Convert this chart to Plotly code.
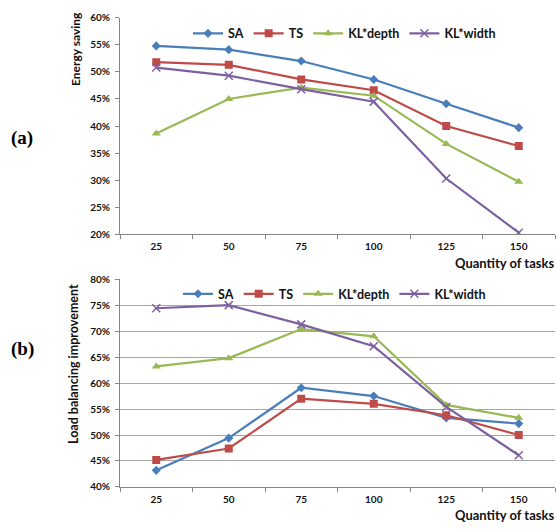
import plotly.graph_objects as go

tasks = ["25", "50", "75", "100", "125", "150"]
series_names = ["SA", "TS", "KL*depth", "KL*width"]

energy_sa = [54.8, 54.1, 52.0, 48.6, 44.1, 39.7]
energy_ts = [51.8, 51.3, 48.6, 46.6, 40.0, 36.3]
energy_kld = [38.6, 45.0, 47.1, 45.6, 36.7, 29.7]
energy_klw = [50.8, 49.3, 46.8, 44.5, 30.3, 20.3]

load_sa = [43.2, 49.4, 59.1, 57.5, 53.3, 52.2]
load_ts = [45.2, 47.4, 57.0, 56.0, 53.8, 50.0]
load_kld = [63.2, 64.8, 70.4, 69.0, 55.8, 53.3]
load_klw = [74.4, 75.0, 71.3, 67.1, 55.4, 46.1]

y1_ticks = [20, 25, 30, 35, 40, 45, 50, 55, 60]
y2_ticks = [40, 45, 50, 55, 60, 65, 70, 75, 80]

colors = ["#4A7EBB", "#BE4B48", "#98B954", "#7D60A0"]
symbols = ["diamond", "square", "triangle-up", "x-thin"]
msizes = [7, 8, 8, 8]

FONT = "Lato"
W, H = 557, 531

def px_x(p):
    return p / W

def px_y(p):
    return 1 - p / H

fig = go.Figure()

top_data = [energy_sa, energy_ts, energy_kld, energy_klw]
bot_data = [load_sa, load_ts, load_kld, load_klw]

for i, name in enumerate(series_names):
    mk = dict(symbol=symbols[i], size=msizes[i], color=colors[i],
              line=dict(color=colors[i], width=1.5 if i == 3 else 0))
    fig.add_trace(go.Scatter(x=tasks, y=top_data[i], name=name, mode="lines+markers",
                             line=dict(color=colors[i], width=2.2), marker=mk,
                             xaxis="x", yaxis="y", legend="legend"))
for i, name in enumerate(series_names):
    mk = dict(symbol=symbols[i], size=msizes[i], color=colors[i],
              line=dict(color=colors[i], width=1.5 if i == 3 else 0))
    fig.add_trace(go.Scatter(x=tasks, y=bot_data[i], name=name, mode="lines+markers",
                             line=dict(color=colors[i], width=2.2), marker=mk,
                             xaxis="x2", yaxis="y2", legend="legend2"))

xdom = [px_x(120), px_x(555)]
axis_common = dict(showline=True, linecolor="#868686", linewidth=1,
                   ticks="outside", tickcolor="#868686", ticklen=4,
                   tickfont=dict(family=FONT, size=10, color="#111", weight="bold"))

fig.update_layout(
    width=W, height=H,
    margin=dict(l=0, r=0, t=0, b=0),
    paper_bgcolor="white", plot_bgcolor="white",
    xaxis=dict(domain=xdom, anchor="y", type="category", tickson="boundaries",
               range=[-0.5, 5.5], showgrid=False, ticklabelstandoff=3, **axis_common),
    yaxis=dict(domain=[px_y(233), px_y(11)], anchor="x", range=[20, 60],
               tickvals=y1_ticks, ticktext=[f"{v}%" for v in y1_ticks],
               showgrid=False, ticklabelstandoff=3, **axis_common),
    xaxis2=dict(domain=xdom, anchor="y2", type="category", tickson="boundaries",
                range=[-0.5, 5.5], showgrid=False, ticklabelstandoff=3, **axis_common),
    yaxis2=dict(domain=[px_y(492), px_y(279)], anchor="x2", range=[40, 80],
                tickvals=y2_ticks, ticktext=[f"{v}%" for v in y2_ticks],
                showgrid=True, gridcolor="#A6A6A6", gridwidth=1, ticklabelstandoff=3,
                **axis_common),
    legend=dict(orientation="h", x=px_x(188), y=px_y(12), xanchor="left", yanchor="top",
                font=dict(family=FONT, size=12.5, color="#111", weight="bold"),
                bgcolor="rgba(0,0,0,0)", itemwidth=30),
    legend2=dict(orientation="h", x=px_x(178), y=px_y(279), xanchor="left", yanchor="top",
                 font=dict(family=FONT, size=12.5, color="#111", weight="bold"),
                 bgcolor="rgba(0,0,0,0)", itemwidth=30),
    showlegend=True,
)

annots = [
    dict(text="<b>Energy saving</b>", x=px_x(76), y=px_y(3), textangle=-90,
         xanchor="center", yanchor="top", font=dict(family=FONT, size=12, color="#111")),
    dict(text="<b>Load balancing improvement</b>", x=px_x(73), y=px_y(366), textangle=-90,
         xanchor="center", yanchor="middle", font=dict(family=FONT, size=12.5, color="#111")),
    dict(text="<b>Quantity of tasks</b>", x=px_x(556), y=px_y(262), xanchor="right",
         yanchor="middle", font=dict(family=FONT, size=13, color="#111")),
    dict(text="<b>Quantity of tasks</b>", x=px_x(556), y=px_y(521), xanchor="right",
         yanchor="middle", font=dict(family=FONT, size=13, color="#111")),
    dict(text="<b>(a)</b>", x=px_x(22), y=px_y(134), xanchor="center", yanchor="middle",
         font=dict(family="Liberation Serif", size=19, color="#000")),
    dict(text="<b>(b)</b>", x=px_x(22), y=px_y(351), xanchor="center", yanchor="middle",
         font=dict(family="Liberation Serif", size=19, color="#000")),
]
for a in annots:
    a.update(xref="paper", yref="paper", showarrow=False)
fig.update_layout(annotations=annots)

fig.write_html("out.html", config={"displayModeBar": False},
               post_script="document.body.style.margin='0';")
